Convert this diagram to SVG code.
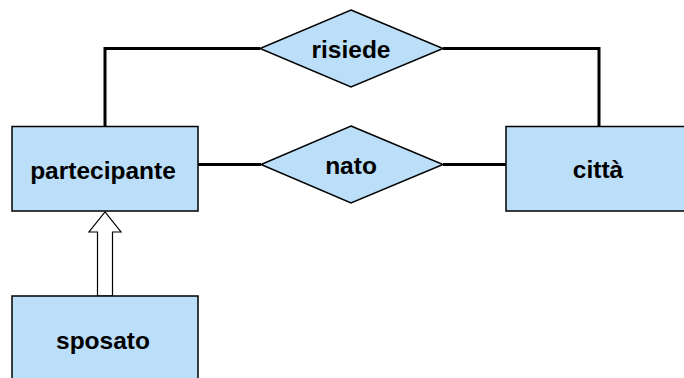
<svg xmlns="http://www.w3.org/2000/svg" width="684" height="378" viewBox="0 0 684 378">
<style>
.shape{fill:#bbdff9;stroke:#000;stroke-width:1.5}
.lbl{font-family:"Liberation Sans",Arial,sans-serif;font-weight:bold;font-size:24.5px;fill:#000;text-anchor:middle}
.conn{fill:none;stroke:#000;stroke-width:3}
</style>
<rect width="684" height="378" fill="#fff"/>
<g id="connectors">
<polyline class="conn" points="105,126 105,48.5 260,48.5"/>
<polyline class="conn" points="443,48.5 599,48.5 599,126"/>
<line class="conn" x1="198" y1="164.5" x2="261" y2="164.5"/>
<line class="conn" x1="443" y1="164.5" x2="506" y2="164.5"/>
<polygon points="97.5,296 97.5,232 89,232 105,212 121,232 112.5,232 112.5,296" fill="#fff" stroke="#000" stroke-width="1.2"/>
</g>
<g id="partecipante">
<rect class="shape" x="12" y="126.5" width="186" height="84.5"/>
<text class="lbl" x="103" y="178.5">partecipante</text>
</g>
<g id="citta">
<rect class="shape" x="506" y="126.5" width="186" height="84.5"/>
<text class="lbl" x="598" y="177.5">città</text>
</g>
<g id="sposato">
<rect class="shape" x="12" y="296" width="186" height="90"/>
<text class="lbl" x="103" y="348.5">sposato</text>
</g>
<g id="risiede">
<polygon class="shape" points="351,10 443,48.5 351,87 260,48.5"/>
<text class="lbl" x="351" y="58">risiede</text>
</g>
<g id="nato">
<polygon class="shape" points="351,126 443,164.5 351,203 261,164.5"/>
<text class="lbl" x="351" y="174">nato</text>
</g>
</svg>
